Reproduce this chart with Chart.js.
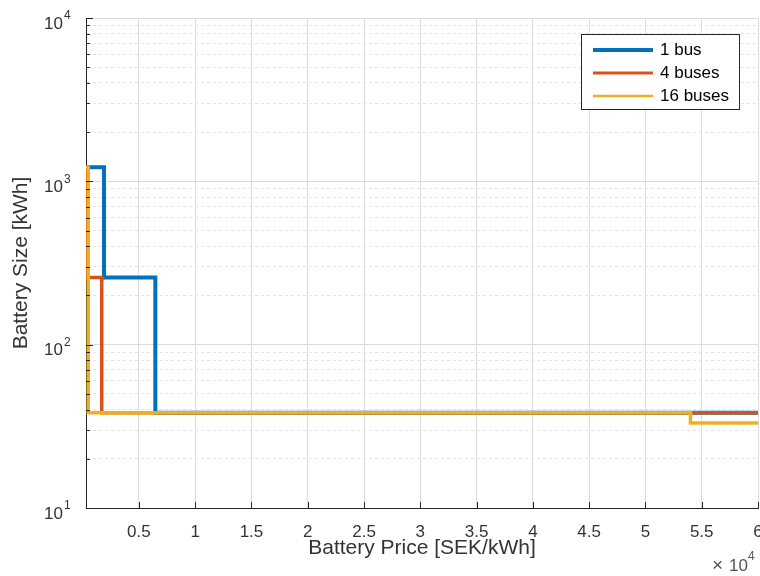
<!DOCTYPE html>
<html>
<head>
<meta charset="utf-8">
<script src="https://cdn.jsdelivr.net/npm/chart.js@4.4.0/dist/chart.umd.min.js"></script>
<style>
html, body { margin: 0; padding: 0; background: #fff; }
#wrap { width: 760px; height: 576px; }
</style>
</head>
<body>
<div id="wrap"><canvas id="grafico"></canvas></div>
<script>
// esquinas de cada escalon (primero horizontal, luego vertical)
const bus1X = [300, 1900, 6460, 60000];
const bus1Y = [1220, 258, 38.3, 38.3];
const bus4X = [300, 400, 1700, 60000];
const bus4Y = [1220, 258, 38.3, 38.3];
const bus16X = [300, 500, 54000, 60000];
const bus16Y = [1220, 38.3, 33.2, 33.2];
const nombres = ["1 bus", "4 buses", "16 buses"];
const colores = ["#0072BD", "#D95319", "#EDB120"];
const anchos = [4, 3.5, 3.5];
const xTicks = [5000, 10000, 15000, 20000, 25000, 30000, 35000, 40000, 45000, 50000, 55000, 60000];
const yMajor = [10, 100, 1000, 10000];

const fuente = "'Liberation Sans', Arial, Helvetica, sans-serif";

function puntos(xs, ys) {
  return xs.map(function(x, i) { return { x: x, y: ys[i] }; });
}

// ticks menores del eje log: 2..9 por decada
let yTicks = [];
yMajor.forEach(function(m, i) {
  yTicks.push({ value: m, major: true });
  if (i < yMajor.length - 1) {
    for (let d = 2; d <= 9; d++) yTicks.push({ value: d * m, major: false });
  }
});

const series = [puntos(bus1X, bus1Y), puntos(bus4X, bus4Y), puntos(bus16X, bus16Y)];

const extras = {
  id: "extras",
  afterDraw: function(chart) {
    const ctx = chart.ctx;
    const sx = chart.scales.x;
    const sy = chart.scales.y;
    const area = chart.chartArea;
    ctx.save();
    // ticks hacia adentro
    ctx.strokeStyle = "#262626";
    ctx.lineWidth = 1;
    ctx.beginPath();
    yTicks.forEach(function(t) {
      const py = Math.round(sy.getPixelForValue(t.value)) + 0.5;
      ctx.moveTo(area.left, py);
      ctx.lineTo(area.left + (t.major ? 7 : 4), py);
    });
    xTicks.forEach(function(v) {
      const px = Math.round(sx.getPixelForValue(v)) + 0.5;
      ctx.moveTo(px, area.bottom);
      ctx.lineTo(px, area.bottom - 6);
    });
    ctx.stroke();

    // etiquetas 10^n
    ctx.fillStyle = "#333";
    yMajor.forEach(function(v) {
      const py = sy.getPixelForValue(v);
      ctx.font = "17px " + fuente;
      ctx.textAlign = "right";
      ctx.textBaseline = "middle";
      ctx.fillText("10", 63, py + 6);
      ctx.font = "12px " + fuente;
      ctx.textAlign = "left";
      ctx.fillText(String(Math.round(Math.log10(v))), 64, py - 2);
    });

    // x 10^4
    ctx.fillStyle = "#555";
    ctx.font = "19px " + fuente;
    ctx.textAlign = "left";
    ctx.textBaseline = "middle";
    ctx.fillText("\u00d7", 712, 566);
    ctx.font = "17px " + fuente;
    ctx.fillText("10", 729, 566);
    ctx.font = "12px " + fuente;
    ctx.fillText("4", 748, 557);

    // leyenda
    const grosor = [4, 3, 2.5];
    ctx.fillStyle = "#fff";
    ctx.fillRect(581, 34, 159, 76);
    ctx.strokeStyle = "#262626";
    ctx.lineWidth = 1;
    ctx.strokeRect(581.5, 34.5, 158, 75);
    chart.data.datasets.forEach(function(ds, i) {
      const ly = 50 + i * 23;
      ctx.strokeStyle = ds.borderColor;
      ctx.lineWidth = grosor[i];
      ctx.beginPath();
      ctx.moveTo(593, ly);
      ctx.lineTo(653, ly);
      ctx.stroke();
      ctx.fillStyle = "#000";
      ctx.font = "17px " + fuente;
      ctx.textAlign = "left";
      ctx.textBaseline = "middle";
      ctx.fillText(ds.label, 660, ly);
    });
    ctx.restore();
  }
};

const datasets = series.map(function(d, i) {
  return {
    label: nombres[i],
    data: d,
    order: series.length - 1 - i,
    borderColor: colores[i],
    backgroundColor: colores[i],
    borderWidth: anchos[i],
    stepped: "before",
    pointRadius: 0,
    fill: false,
    borderJoinStyle: "miter",
    borderCapStyle: "butt"
  };
});

const grafico = new Chart(document.getElementById("grafico"), {
  type: "line",
  data: { datasets: datasets },
  options: {
    responsive: true,
    maintainAspectRatio: false,
    animation: false,
    layout: { padding: { top: 18, right: 2, left: 0, bottom: 0 } },
    plugins: { legend: { display: false }, tooltip: { enabled: false } },
    scales: {
      x: {
        type: "linear",
        min: 300,
        max: 60000,
        afterBuildTicks: function(s) { s.ticks = xTicks.map(function(v) { return { value: v }; }); },
        afterFit: function(s) { s.height = 68; s.paddingLeft = 0; s.paddingRight = 0; },
        ticks: {
          autoSkip: false,
          maxRotation: 0,
          padding: 14,
          color: "#333",
          font: { family: fuente, size: 17 },
          callback: function(v) { return String(v / 10000); }
        },
        grid: { color: "#dcdcdc", drawTicks: false },
        border: { color: "#262626", width: 1 },
        title: {
          display: true,
          text: "Battery Price [SEK/kWh]",
          color: "#333",
          font: { family: fuente, size: 21 },
          padding: { top: 15, bottom: 15 }
        }
      },
      y: {
        type: "logarithmic",
        min: 10,
        max: 10000,
        afterBuildTicks: function(s) { s.ticks = yTicks.map(function(t) { return { value: t.value, major: t.major }; }); },
        afterFit: function(s) { s.width = 86; s.paddingTop = 0; s.paddingBottom = 0; },
        ticks: { display: false },
        grid: {
          drawTicks: false,
          color: function(c) { return c.tick && c.tick.major ? "#dcdcdc" : "#e4e4e4"; }
        },
        border: {
          color: "#262626",
          width: 1,
          dash: function(c) { return c.tick && !c.tick.major ? [3, 3] : []; }
        },
        title: {
          display: true,
          text: "Battery Size [kWh]",
          color: "#333",
          font: { family: fuente, size: 21 },
          padding: { top: 9, bottom: 9 }
        }
      }
    }
  },
  plugins: [extras]
});
</script>
</body>
</html>
